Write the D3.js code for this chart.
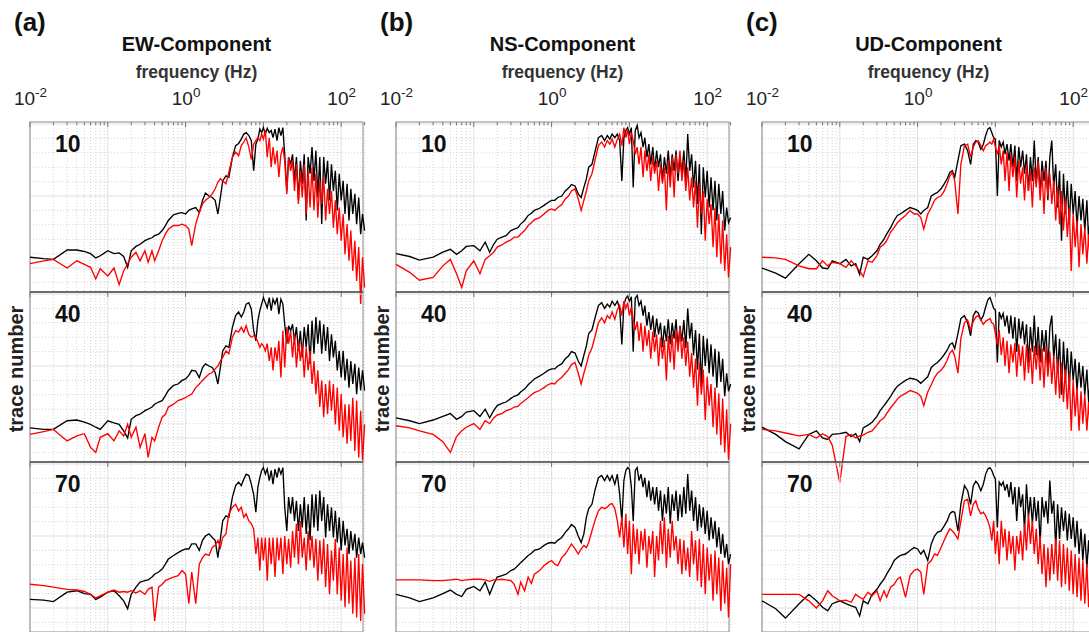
<!DOCTYPE html>
<html>
<head>
<meta charset="utf-8">
<script src="https://cdn.jsdelivr.net/npm/d3@7"></script>
<style>
  body { margin: 0; background: #fff; }
  svg { display: block; font-family: "Liberation Sans", Arial, sans-serif; }
</style>
</head>
<body>
<svg width="1089" height="632"></svg>
<script>
// shared frequency grid (Hz) - every series below has one value per entry
var FREQ = [0.01,0.015,0.02,0.03,0.04,0.05,0.06,0.07,0.08,0.1,0.12,0.14,0.16,0.18,0.2,0.23,0.26,0.3,0.33,0.37,0.4,0.45,0.5,0.55,0.6,0.7,0.8,0.9,1.0,
  1.1,1.2,1.35,1.5,1.65,1.8,2.0,2.2,2.4,2.6,2.8,3.0,3.3,3.6,4.0,4.4,4.8,5.2,5.6,6.0,6.5,7.0,7.5,8.0,8.5,9.0,9.5,10,
  10.6,11.2,11.9,12.6,13.3,14.1,15,15.8,16.8,17.8,18.8,20,21.1,22.4,23.7,25.1,26.6,28.2,29.9,31.6,33.5,35.5,37.6,39.8,42.2,44.7,47.3,50.1,53.1,56.2,59.6,
  63.1,66.8,70.8,75,79.4,84.1,89.1,94.4,100,106,112,119,126,133,141,150,158,168,178,188,200];

// components / traces
var components = ["EW-Component", "NS-Component", "UD-Component"];
var panelTags = ["(a)", "(b)", "(c)"];
var traces = ["10", "40", "70"];

// x tick labels (10^exp)
var tickValues = [0.01, 1, 100];
var tickExps = ["-2", "0", "2"];

// normalized log10 amplitude, black = observed, red = simulated
var a10k = [-1.85,-1.87,-1.88,-1.75,-1.75,-1.77,-1.8,-1.86,-1.83,-1.76,-1.8,-1.79,-1.84,-1.99,-1.76,-1.7,-1.67,-1.62,-1.6,-1.58,-1.55,-1.53,-1.48,-1.41,-1.34,-1.26,-1.24,-1.23,-1.25,
  -1.2,-1.18,-1.16,-1.23,-1.06,-0.96,-1.0,-1.02,-1.06,-1.25,-1.02,-0.79,-0.72,-0.74,-0.46,-0.3,-0.27,-0.21,-0.14,-0.12,-0.16,-0.23,-0.65,-0.28,-0.21,-0.07,-0.12,-0.05,
  -0.14,-0.06,-0.12,-0.09,-0.19,-0.07,-0.23,-0.05,-0.16,-0.05,-0.42,
  -0.93,-0.46,-0.56,-0.42,-0.79,-0.46,-1.06,-0.51,
  -0.83,-0.42,-1.34,-0.46,-0.69,-0.32,-0.79,-0.37,-1.02,-0.46,-1.39,-0.46,
  -0.83,-0.51,-1.06,-0.56,-0.93,-0.65,-1.2,-0.69,-1.06,
  -0.79,-1.25,-0.83,-1.34,-0.9,-1.25,-0.97,-1.39,-1.02,-1.53,-1.25,-1.48];
var a10r = [-1.94,-1.9,-1.88,-2.0,-1.9,-1.95,-1.99,-2.15,-2.01,-2.11,-2.0,-2.23,-2.04,-1.94,-1.85,-1.78,-1.9,-1.76,-1.92,-1.76,-1.9,-1.76,-1.62,-1.53,-1.46,-1.41,-1.41,-1.39,-1.41,
  -1.46,-1.69,-1.39,-1.23,-1.11,-1.06,-1.02,-0.97,-0.9,-0.81,-0.76,-0.79,-0.83,-0.67,-0.46,-0.39,-0.44,-0.3,-0.25,-0.19,-0.32,-0.49,-0.28,-0.23,-0.19,-0.23,-0.14,-0.21,
  -0.09,-0.46,-0.19,-0.6,-0.32,-0.56,-0.37,-0.74,-0.42,-0.32,-0.51,
  -0.97,-0.46,-0.65,-0.51,-0.93,-0.56,-1.11,-0.65,
  -1.02,-0.56,-1.25,-0.65,-1.16,-0.6,-1.2,-0.69,-1.3,-0.79,-1.11,-0.74,
  -1.34,-0.9,-1.25,-0.93,-1.44,-1.06,-1.53,-1.16,-1.62,
  -1.25,-1.81,-1.39,-1.9,-1.48,-2.04,-1.62,-2.18,-1.71,-2.5,-1.85,-2.27];
var a40k = [-1.86,-1.88,-1.88,-1.76,-1.75,-1.78,-1.81,-1.85,-1.88,-1.76,-1.79,-1.81,-1.9,-2.0,-1.74,-1.69,-1.67,-1.62,-1.6,-1.57,-1.53,-1.5,-1.48,-1.41,-1.34,-1.27,-1.25,-1.2,-1.18,
  -1.13,-1.06,-1.07,-1.16,-1.02,-0.97,-1.0,-1.02,-1.09,-1.25,-1.02,-0.79,-0.72,-0.74,-0.46,-0.3,-0.25,-0.32,-0.25,-0.14,-0.12,-0.21,-0.51,-0.65,-0.37,-0.23,-0.14,-0.05,
  -0.12,-0.19,-0.05,-0.23,-0.07,-0.14,-0.05,-0.28,-0.07,-0.14,-0.42,
  -0.69,-0.44,-0.51,-0.42,-0.65,-0.46,-0.79,-0.51,
  -0.88,-0.46,-0.74,-0.42,-0.97,-0.37,-0.83,-0.32,-0.69,-0.37,-0.83,-0.42,
  -0.79,-0.46,-0.93,-0.56,-0.88,-0.65,-1.06,-0.79,-1.16,
  -0.79,-1.2,-0.9,-1.3,-0.93,-1.25,-0.97,-1.39,-1.02,-1.34,-1.06,-1.34];
var a40r = [-1.95,-1.91,-1.88,-2.04,-1.97,-1.94,-2.13,-2.2,-1.99,-1.94,-2.04,-1.9,-1.97,-1.81,-1.99,-1.85,-2.13,-1.94,-2.27,-1.99,-2.04,-1.85,-1.71,-1.67,-1.57,-1.53,-1.48,-1.46,-1.44,
  -1.41,-1.39,-1.3,-1.25,-1.2,-1.16,-1.11,-1.09,-1.04,-1.0,-0.93,-0.88,-0.79,-0.83,-0.6,-0.51,-0.53,-0.46,-0.53,-0.44,-0.56,-0.6,-0.58,-0.6,-0.67,-0.74,-0.69,-0.72,
  -0.79,-0.69,-0.93,-0.74,-1.06,-0.74,-0.93,-0.65,-1.16,-0.51,-1.02,
  -0.46,-0.69,-0.51,-0.88,-0.56,-1.02,-0.65,-0.93,
  -0.69,-1.16,-0.74,-1.06,-0.79,-1.25,-0.93,-1.39,-1.06,-1.57,-1.2,-1.71,
  -1.25,-1.67,-1.2,-1.62,-1.25,-1.81,-1.3,-1.9,-1.39,
  -1.99,-1.53,-2.08,-1.53,-2.04,-1.44,-2.18,-1.48,-2.27,-1.62,-2.31,-1.81];
var a70k = [-1.88,-1.89,-1.91,-1.78,-1.76,-1.8,-1.81,-1.88,-1.85,-1.78,-1.76,-1.83,-1.9,-2.01,-1.81,-1.71,-1.64,-1.62,-1.61,-1.57,-1.53,-1.5,-1.46,-1.39,-1.32,-1.27,-1.23,-1.2,-1.18,
  -1.18,-1.11,-1.11,-1.2,-1.06,-1.0,-0.97,-1.02,-1.06,-1.3,-1.04,-0.79,-0.72,-0.74,-0.46,-0.3,-0.25,-0.3,-0.21,-0.14,-0.16,-0.28,-0.42,-0.67,-0.32,-0.19,-0.09,-0.05,
  -0.14,-0.07,-0.23,-0.09,-0.28,-0.07,-0.19,-0.05,-0.14,-0.05,-0.6,
  -0.93,-0.46,-0.69,-0.46,-0.79,-0.51,-0.93,-0.56,
  -0.88,-0.46,-0.97,-0.56,-1.06,-0.42,-0.88,-0.42,-0.93,-0.37,-0.79,-0.46,
  -1.02,-0.56,-0.93,-0.6,-1.02,-0.65,-1.09,-0.74,-1.2,
  -0.79,-1.13,-0.9,-1.25,-0.93,-1.2,-0.97,-1.3,-1.02,-1.25,-1.09,-1.3];
var a70r = [-1.67,-1.69,-1.71,-1.74,-1.75,-1.77,-1.81,-1.86,-1.83,-1.78,-1.75,-1.78,-1.77,-1.78,-1.76,-1.79,-1.76,-1.81,-1.74,-1.71,-2.18,-1.71,-1.67,-1.62,-1.6,-1.57,-1.55,-1.48,-1.53,
  -1.94,-1.5,-1.94,-1.39,-1.3,-1.25,-1.27,-1.16,-1.13,-1.06,-1.16,-1.02,-0.97,-0.69,-0.6,-0.56,-0.65,-0.6,-0.74,-0.69,-0.79,-0.83,-0.9,-1.25,-1.02,-1.48,-1.02,-1.34,
  -1.02,-1.62,-1.02,-1.39,-1.02,-1.57,-1.02,-1.34,-1.02,-1.53,-1.0,
  -1.39,-1.04,-1.44,-0.93,-1.3,-0.83,-1.39,-0.79,
  -1.3,-1.02,-1.48,-0.93,-1.34,-1.0,-1.44,-1.04,-1.62,-1.06,-1.53,-1.04,
  -1.71,-1.11,-1.81,-1.2,-1.62,-1.04,-1.81,-1.16,-1.9,
  -1.25,-1.99,-1.16,-1.94,-1.34,-2.08,-1.3,-2.13,-1.25,-2.18,-1.39,-2.08];

var b10k = [-1.8,-1.84,-1.89,-1.85,-1.78,-1.74,-1.81,-1.76,-1.7,-1.69,-1.76,-1.64,-1.78,-1.67,-1.6,-1.57,-1.55,-1.48,-1.46,-1.44,-1.39,-1.34,-1.27,-1.24,-1.2,-1.17,-1.13,-1.09,-1.06,
  -1.06,-1.02,-1.0,-0.93,-0.89,-0.84,-0.86,-0.97,-1.02,-0.88,-0.76,-0.6,-0.56,-0.39,-0.19,-0.16,-0.23,-0.16,-0.21,-0.14,-0.19,-0.14,-0.23,-0.79,-0.19,-0.09,-0.05,-0.14,
  -0.05,-0.88,-0.09,-0.02,-0.19,-0.12,-0.32,-0.19,-0.46,-0.28,-0.56,
  -0.32,-0.65,-0.37,-0.6,-0.42,-0.79,-0.46,-0.69,
  -0.37,-0.74,-0.42,-0.65,-0.37,-0.79,-0.46,-0.69,-0.37,-0.79,-0.14,-0.65,
  -0.42,-0.88,-0.51,-1.11,-0.56,-1.53,-0.6,-1.02,-0.65,
  -1.16,-0.74,-1.2,-0.79,-1.34,-0.83,-1.25,-0.93,-1.48,-1.16,-1.37,-1.3];
var b10r = [-1.95,-2.06,-2.17,-2.13,-1.97,-1.88,-2.08,-2.27,-2.04,-1.9,-2.08,-1.88,-1.83,-1.78,-1.71,-1.68,-1.64,-1.61,-1.57,-1.57,-1.53,-1.48,-1.41,-1.37,-1.33,-1.3,-1.25,-1.2,-1.18,
  -1.2,-1.16,-1.12,-1.04,-1.0,-0.93,-0.9,-1.04,-1.2,-1.06,-0.93,-0.79,-0.69,-0.51,-0.3,-0.25,-0.32,-0.23,-0.28,-0.21,-0.32,-0.21,-0.14,-0.3,-0.05,-0.19,-0.07,-0.28,
  -0.12,-0.23,-0.42,-0.32,-0.56,-0.32,-0.74,-0.37,-0.65,-0.42,-0.79,
  -0.46,-0.69,-0.51,-0.93,-0.56,-0.83,-0.6,-1.2,
  -0.51,-0.88,-0.46,-1.02,-0.42,-0.69,-0.37,-0.79,-0.51,-0.93,-0.6,-1.06,
  -0.74,-1.16,-0.79,-1.44,-0.83,-1.25,-0.93,-1.62,-1.04,
  -1.39,-1.11,-1.71,-1.16,-1.85,-1.25,-1.94,-1.34,-2.04,-1.53,-2.13,-1.71];
var b40k = [-1.72,-1.76,-1.8,-1.75,-1.7,-1.66,-1.74,-1.7,-1.64,-1.62,-1.7,-1.6,-1.72,-1.62,-1.55,-1.52,-1.5,-1.45,-1.42,-1.4,-1.36,-1.32,-1.26,-1.22,-1.18,-1.14,-1.1,-1.06,-1.04,
  -1.04,-1.0,-0.97,-0.9,-0.86,-0.8,-0.82,-0.93,-1.0,-0.85,-0.72,-0.55,-0.5,-0.34,-0.16,-0.12,-0.2,-0.14,-0.18,-0.1,-0.16,-0.1,-0.2,-0.7,-0.15,-0.06,-0.03,-0.1,
  -0.04,-0.8,-0.06,-0.02,-0.16,-0.1,-0.3,-0.16,-0.44,-0.25,-0.5,
  -0.3,-0.6,-0.34,-0.56,-0.4,-0.74,-0.44,-0.66,
  -0.35,-0.7,-0.4,-0.62,-0.35,-0.76,-0.44,-0.66,-0.36,-0.75,-0.2,-0.62,
  -0.4,-0.85,-0.5,-1.05,-0.55,-1.3,-0.58,-1.0,-0.62,
  -1.1,-0.7,-1.15,-0.76,-1.3,-0.8,-1.22,-0.9,-1.42,-1.1,-1.35,-1.25];
var b40r = [-1.83,-1.86,-1.9,-1.95,-2.05,-2.2,-1.98,-1.9,-1.85,-1.8,-1.88,-1.76,-1.8,-1.72,-1.68,-1.66,-1.62,-1.6,-1.57,-1.56,-1.52,-1.48,-1.44,-1.4,-1.37,-1.34,-1.3,-1.26,-1.24,
  -1.25,-1.2,-1.16,-1.1,-1.05,-0.98,-0.95,-1.1,-1.25,-1.1,-0.98,-0.85,-0.75,-0.6,-0.4,-0.33,-0.4,-0.3,-0.34,-0.25,-0.35,-0.22,-0.16,-0.3,-0.1,-0.2,-0.12,-0.3,
  -0.18,-0.35,-0.5,-0.38,-0.65,-0.4,-0.8,-0.44,-0.72,-0.5,-0.9,
  -0.52,-0.8,-0.56,-1.0,-0.6,-0.9,-0.64,-1.2,
  -0.58,-0.95,-0.55,-1.05,-0.5,-0.8,-0.46,-0.9,-0.6,-1.0,-0.66,-1.15,
  -0.82,-1.3,-0.9,-1.55,-0.95,-1.4,-1.05,-1.75,-1.15,
  -1.55,-1.25,-1.85,-1.3,-1.95,-1.38,-2.1,-1.45,-2.2,-1.6,-2.3,-1.8];
var b70k = [-1.81,-1.86,-1.91,-1.86,-1.8,-1.75,-1.81,-1.84,-1.74,-1.7,-1.76,-1.64,-1.81,-1.67,-1.57,-1.55,-1.53,-1.48,-1.46,-1.41,-1.37,-1.32,-1.27,-1.24,-1.2,-1.18,-1.13,-1.1,-1.09,
  -1.1,-1.06,-1.02,-0.95,-0.9,-0.84,-0.88,-1.0,-1.09,-0.97,-0.74,-0.62,-0.56,-0.37,-0.19,-0.16,-0.23,-0.16,-0.23,-0.16,-0.28,-0.14,-0.42,-0.79,-0.23,-0.09,-0.05,-0.07,
  -0.32,-0.79,-0.09,-0.05,-0.23,-0.14,-0.32,-0.19,-0.46,-0.23,-0.51,
  -0.32,-0.56,-0.32,-0.65,-0.37,-0.79,-0.42,-0.69,
  -0.32,-0.83,-0.42,-0.65,-0.37,-0.79,-0.42,-0.74,-0.32,-0.69,-0.14,-0.65,
  -0.37,-0.79,-0.46,-0.93,-0.56,-0.88,-0.6,-0.97,-0.65,
  -1.06,-0.74,-1.04,-0.79,-1.16,-0.88,-1.25,-0.97,-1.3,-1.11,-1.39,-1.25];
var b70r = [-1.61,-1.61,-1.61,-1.62,-1.62,-1.61,-1.6,-1.62,-1.61,-1.6,-1.6,-1.61,-1.63,-1.61,-1.61,-1.6,-1.61,-1.62,-1.67,-1.81,-1.64,-1.76,-1.57,-1.66,-1.53,-1.48,-1.41,-1.37,-1.34,
  -1.39,-1.41,-1.3,-1.25,-1.18,-1.11,-1.18,-1.25,-1.18,-1.13,-1.16,-1.09,-0.93,-0.79,-0.65,-0.6,-0.62,-0.6,-0.56,-0.55,-0.62,-0.79,-1.02,-0.74,-1.16,-0.69,-1.25,-0.79,
  -1.53,-0.83,-1.25,-0.9,-1.39,-0.93,-1.2,-0.9,-1.44,-1.0,-1.25,
  -0.93,-1.57,-1.0,-1.34,-0.79,-1.25,-0.74,-1.44,
  -0.9,-1.3,-0.79,-1.2,-1.0,-1.39,-1.04,-1.53,-1.06,-1.48,-1.16,-1.57,
  -0.93,-1.39,-1.06,-1.62,-1.04,-1.71,-1.11,-1.81,-1.16,
  -1.62,-1.25,-1.9,-1.2,-1.81,-1.3,-2.04,-1.34,-1.94,-1.44,-2.13,-1.39];

var c10k = [-2.0,-2.07,-2.14,-1.94,-1.81,-1.9,-2.0,-2.01,-1.9,-1.94,-1.88,-1.97,-1.94,-2.09,-1.85,-1.88,-1.83,-1.76,-1.67,-1.6,-1.53,-1.44,-1.34,-1.27,-1.25,-1.2,-1.16,-1.18,-1.2,
  -1.25,-1.2,-1.16,-1.0,-0.97,-0.95,-0.9,-0.83,-0.76,-0.67,-0.65,-0.74,-0.51,-0.3,-0.28,-0.37,-0.56,-0.28,-0.23,-0.25,-0.35,-0.28,-0.16,-0.07,-0.05,-0.12,-0.19,-0.21,
  -1.0,-0.23,-0.32,-0.25,-0.42,-0.28,-0.51,-0.28,-0.6,-0.3,-0.79,
  -0.32,-0.6,-0.37,-0.69,-0.42,-0.93,-0.46,-0.79,
  -0.23,-0.83,-0.46,-0.97,-0.51,-0.79,-0.51,-1.06,-0.46,-0.23,-0.88,-0.56,
  -1.16,-0.65,-1.62,-0.69,-1.25,-0.79,-1.39,-0.83,-1.25,
  -0.93,-1.44,-1.0,-1.34,-1.04,-1.48,-1.06,-1.62,-1.16,-1.71,-1.25,-1.81];
var c10r = [-1.85,-1.86,-1.88,-1.97,-2.01,-2.01,-1.9,-1.97,-1.92,-1.94,-1.99,-1.9,-1.97,-2.04,-2.12,-1.9,-1.92,-1.83,-1.71,-1.67,-1.62,-1.5,-1.44,-1.37,-1.33,-1.27,-1.2,-1.25,-1.25,
  -1.3,-1.46,-1.25,-1.16,-1.06,-1.02,-1.0,-0.93,-0.83,-0.72,-0.67,-0.79,-1.25,-0.56,-0.3,-0.28,-0.46,-0.32,-0.25,-0.23,-0.3,-0.37,-0.3,-0.28,-0.25,-0.28,-0.21,-0.32,
  -0.42,-0.3,-0.56,-0.37,-0.79,-0.39,-0.93,-0.42,-0.74,-0.46,-1.02,
  -0.51,-0.83,-0.6,-1.06,-0.56,-0.93,-0.65,-1.16,
  -0.6,-0.88,-0.51,-1.06,-0.65,-1.25,-0.6,-1.0,-0.69,-1.11,-0.79,-1.34,
  -0.88,-1.39,-0.93,-1.48,-1.04,-1.57,-1.16,-2.04,-1.25,
  -1.71,-1.34,-1.99,-1.39,-1.81,-1.44,-1.94,-1.53,-2.04,-1.62,-2.08,-1.71];
var c40k = [-1.85,-1.95,-2.05,-2.15,-1.95,-1.9,-2.0,-2.02,-1.95,-1.94,-1.92,-1.98,-1.94,-2.05,-1.86,-1.82,-1.78,-1.7,-1.62,-1.55,-1.5,-1.42,-1.34,-1.28,-1.25,-1.2,-1.17,-1.18,-1.2,
  -1.24,-1.2,-1.15,-1.02,-0.98,-0.95,-0.9,-0.84,-0.78,-0.7,-0.68,-0.76,-0.55,-0.34,-0.3,-0.4,-0.58,-0.3,-0.24,-0.26,-0.36,-0.3,-0.18,-0.08,-0.05,-0.12,-0.2,-0.22,
  -0.95,-0.25,-0.34,-0.27,-0.45,-0.3,-0.55,-0.3,-0.62,-0.32,-0.8,
  -0.34,-0.62,-0.38,-0.7,-0.42,-0.95,-0.46,-0.8,
  -0.3,-0.85,-0.46,-0.95,-0.5,-0.8,-0.5,-1.05,-0.46,-0.3,-0.9,-0.56,
  -1.1,-0.62,-1.4,-0.66,-1.2,-0.75,-1.3,-0.8,-1.2,
  -0.9,-1.35,-0.95,-1.3,-1.0,-1.4,-1.05,-1.5,-1.1,-1.6,-1.2,-1.7];
var c40r = [-1.88,-1.9,-1.93,-1.97,-1.95,-2.0,-1.94,-1.98,-2.1,-2.62,-1.98,-1.95,-2.0,-1.97,-1.96,-1.92,-1.9,-1.82,-1.76,-1.72,-1.66,-1.58,-1.52,-1.46,-1.42,-1.38,-1.34,-1.36,-1.38,
  -1.42,-1.55,-1.36,-1.26,-1.16,-1.1,-1.06,-1.0,-0.92,-0.82,-0.78,-0.86,-1.1,-0.62,-0.4,-0.36,-0.5,-0.38,-0.32,-0.3,-0.36,-0.42,-0.38,-0.36,-0.34,-0.4,-0.42,-0.55,
  -0.7,-0.5,-0.85,-0.6,-1.0,-0.65,-1.1,-0.7,-0.95,-0.68,-1.15,
  -0.7,-1.0,-0.72,-1.2,-0.7,-1.1,-0.75,-1.25,
  -0.72,-1.05,-0.7,-1.2,-0.75,-1.3,-0.72,-1.15,-0.8,-1.25,-0.85,-1.4,
  -0.9,-1.45,-0.95,-1.5,-1.05,-1.6,-1.1,-1.9,-1.2,
  -1.7,-1.3,-1.9,-1.35,-1.8,-1.4,-1.9,-1.5,-2.0,-1.6,-2.05,-1.7];
var c70k = [-1.9,-2.01,-2.14,-1.94,-1.81,-1.9,-1.99,-2.04,-1.94,-1.9,-1.94,-1.97,-1.99,-2.11,-1.9,-1.94,-1.81,-1.74,-1.67,-1.6,-1.53,-1.44,-1.34,-1.3,-1.27,-1.25,-1.2,-1.16,-1.18,
  -1.25,-1.2,-1.34,-1.11,-1.0,-0.95,-0.93,-0.86,-0.79,-0.69,-0.66,-0.67,-0.93,-0.56,-0.3,-0.37,-0.56,-0.3,-0.24,-0.28,-0.37,-0.28,-0.14,-0.07,-0.05,-0.09,-0.16,-0.21,
  -0.88,-0.25,-0.3,-0.25,-0.37,-0.28,-0.46,-0.25,-0.56,-0.32,-0.79,
  -0.32,-0.6,-0.42,-0.93,-0.28,-0.74,-0.46,-0.83,
  -0.46,-0.79,-0.51,-1.11,-0.46,-0.74,-0.51,-0.83,-0.23,-0.69,-0.51,-1.16,
  -0.56,-1.04,-0.6,-0.93,-0.65,-1.06,-0.69,-1.04,-0.74,
  -1.16,-0.79,-1.25,-0.9,-1.34,-0.97,-1.44,-1.06,-1.48,-1.16,-1.53,-1.25];
var c70r = [-1.81,-1.81,-1.81,-1.81,-1.9,-2.0,-1.9,-1.76,-1.83,-1.9,-1.89,-1.92,-1.81,-1.85,-1.88,-1.78,-1.83,-1.76,-1.9,-1.76,-1.85,-1.71,-1.67,-1.6,-1.57,-1.85,-1.55,-1.48,-1.46,
  -1.5,-1.81,-1.39,-1.34,-1.25,-1.27,-1.16,-1.06,-0.97,-0.9,-0.93,-0.97,-1.04,-0.79,-0.51,-0.49,-0.72,-0.56,-0.51,-0.62,-0.69,-0.67,-0.72,-0.79,-0.88,-1.06,-0.79,-1.25,
  -0.93,-1.39,-0.79,-1.16,-0.9,-1.34,-0.93,-1.25,-1.0,-1.48,-1.0,
  -1.25,-0.93,-1.34,-0.83,-1.2,-0.69,-1.11,-0.79,
  -1.25,-0.9,-1.39,-1.0,-1.53,-1.11,-1.71,-1.16,-1.62,-1.11,-1.53,-1.04,
  -1.62,-1.06,-1.71,-1.11,-1.67,-1.16,-1.76,-1.2,-1.81,
  -1.25,-1.85,-1.3,-1.9,-1.34,-1.94,-1.39,-1.99,-1.44,-2.04,-1.48,-2.08];

// [column][trace] -> [black, red]
var series = [
  [[a10k, a10r], [a40k, a40r], [a70k, a70r]],
  [[b10k, b10r], [b40k, b40r], [b70k, b70r]],
  [[c10k, c10r], [c40k, c40r], [c70k, c70r]]
];

var svg = d3.select('svg');

var colLeft = [30, 396, 762];
var panelTop = [122, 292, 462];
var panelW = 333, panelH = 170;

var xScale = d3.scaleLog().domain([0.01, 200]).range([0, 334.6]);
// 72 px per decade of amplitude, top gridline 2px below frame
var yScale = d3.scaleLinear().domain([0.028, -2.333]).range([0, panelH]);

var majorX = [0.01, 0.1, 1, 10, 100];
var minorX = [];
majorX.forEach(function (d) {
    for (var k = 2; k <= 9; k++) if (d * k <= 200) minorX.push(d * k);
});
var majorY = [0, -1, -2];
var minorY = d3.range(-0.2, -2.35, -0.2).filter(function (v) { return Math.abs(v - Math.round(v)) > 0.05; });

var line = d3.line()
    .defined(function (d) { return d != null && !isNaN(d); })
    .x(function (d, i) { return xScale(FREQ[i]); })
    .y(function (d) { return yScale(d); });

components.forEach(function (comp, c) {
    var col = svg.append('g').attr('transform', 'translate(' + [colLeft[c], 0] + ')');

    // panel tag + titles
    svg.append('text')
        .attr('x', colLeft[c] - 16).attr('y', 31)
        .attr('font-size', 26).attr('font-weight', 'bold').attr('fill', '#111')
        .text(panelTags[c]);
    col.append('text')
        .attr('x', panelW / 2).attr('y', 51)
        .attr('text-anchor', 'middle')
        .attr('font-size', 20).attr('font-weight', 'bold').attr('fill', '#111')
        .text(comp);
    col.append('text')
        .attr('x', panelW / 2).attr('y', 78)
        .attr('text-anchor', 'middle')
        .attr('font-size', 17.5).attr('font-weight', 'bold').attr('fill', '#333')
        .text('frequency (Hz)');

    // top axis labels 10^n
    var axis = d3.axisTop(xScale).tickValues(tickValues).tickSize(0).tickPadding(17);
    var ax = col.append('g').attr('transform', 'translate(0,' + panelTop[0] + ')').call(axis);
    ax.select('.domain').remove();
    ax.selectAll('.tick text')
        .attr('font-size', 19).attr('fill', '#222')
        .attr('font-family', '"Liberation Sans", Arial, sans-serif')
        .each(function (d, i) {
            var t = d3.select(this);
            t.text(null);
            t.append('tspan').text('10');
            t.append('tspan').attr('dy', -8).attr('font-size', 13.5).text(tickExps[i]);
        });

    // y label
    svg.append('text')
        .attr('transform', 'translate(' + (colLeft[c] - 7) + ',' + (panelTop[1] + panelH / 2 - 8) + ') rotate(-90)')
        .attr('text-anchor', 'middle')
        .attr('font-size', 20).attr('font-weight', 'bold').attr('fill', '#222')
        .text('trace number');

    traces.forEach(function (tr, r) {
        var g = col.append('g').attr('transform', 'translate(0,' + panelTop[r] + ')');

        // grid
        g.selectAll('.vmin').data(minorX).enter().append('line')
            .attr('x1', xScale).attr('x2', xScale).attr('y1', 0).attr('y2', panelH)
            .attr('stroke', '#c8c8c8').attr('stroke-width', 0.8).attr('stroke-dasharray', '1,2');
        g.selectAll('.vmaj').data(majorX).enter().append('line')
            .attr('x1', xScale).attr('x2', xScale).attr('y1', 0).attr('y2', panelH)
            .attr('stroke', '#e0e0e0').attr('stroke-width', 1);
        g.selectAll('.hmin').data(minorY).enter().append('line')
            .attr('x1', 0).attr('x2', panelW).attr('y1', yScale).attr('y2', yScale)
            .attr('stroke', '#c8c8c8').attr('stroke-width', 0.8).attr('stroke-dasharray', '1,2');
        g.selectAll('.hmaj').data(majorY).enter().append('line')
            .attr('x1', 0).attr('x2', panelW).attr('y1', yScale).attr('y2', yScale)
            .attr('stroke', '#e0e0e0').attr('stroke-width', 1);

        // ticks along the top edge
        var tickData = r === 0 ? majorX.concat(minorX) : majorX;
        g.selectAll('.tk').data(tickData).enter().append('line')
            .attr('x1', xScale).attr('x2', xScale).attr('y1', 0)
            .attr('y2', function (d) { return majorX.indexOf(d) >= 0 ? 5 : 3; })
            .attr('stroke', '#555').attr('stroke-width', 0.8);

        // frame
        g.append('rect')
            .attr('width', panelW).attr('height', panelH)
            .attr('fill', 'none').attr('stroke', '#8a8a8a').attr('stroke-width', 1);
        if (r > 0) {
            g.append('line').attr('x1', 0).attr('x2', panelW).attr('y1', 0).attr('y2', 0)
                .attr('stroke', '#333').attr('stroke-width', 1.2);
        }

        // spectra: observed black, simulated red on top
        var pair = series[c][r];
        g.append('path').datum(pair[0]).attr('d', line)
            .attr('fill', 'none').attr('stroke', '#000').attr('stroke-width', 1.35);
        g.append('path').datum(pair[1]).attr('d', line)
            .attr('fill', 'none').attr('stroke', '#ff0000').attr('stroke-width', 1.35);

        g.append('text')
            .attr('x', 25).attr('y', 30)
            .attr('font-size', 23).attr('font-weight', 'bold').attr('fill', '#111')
            .text(tr);
    });
});
</script>
</body>
</html>
